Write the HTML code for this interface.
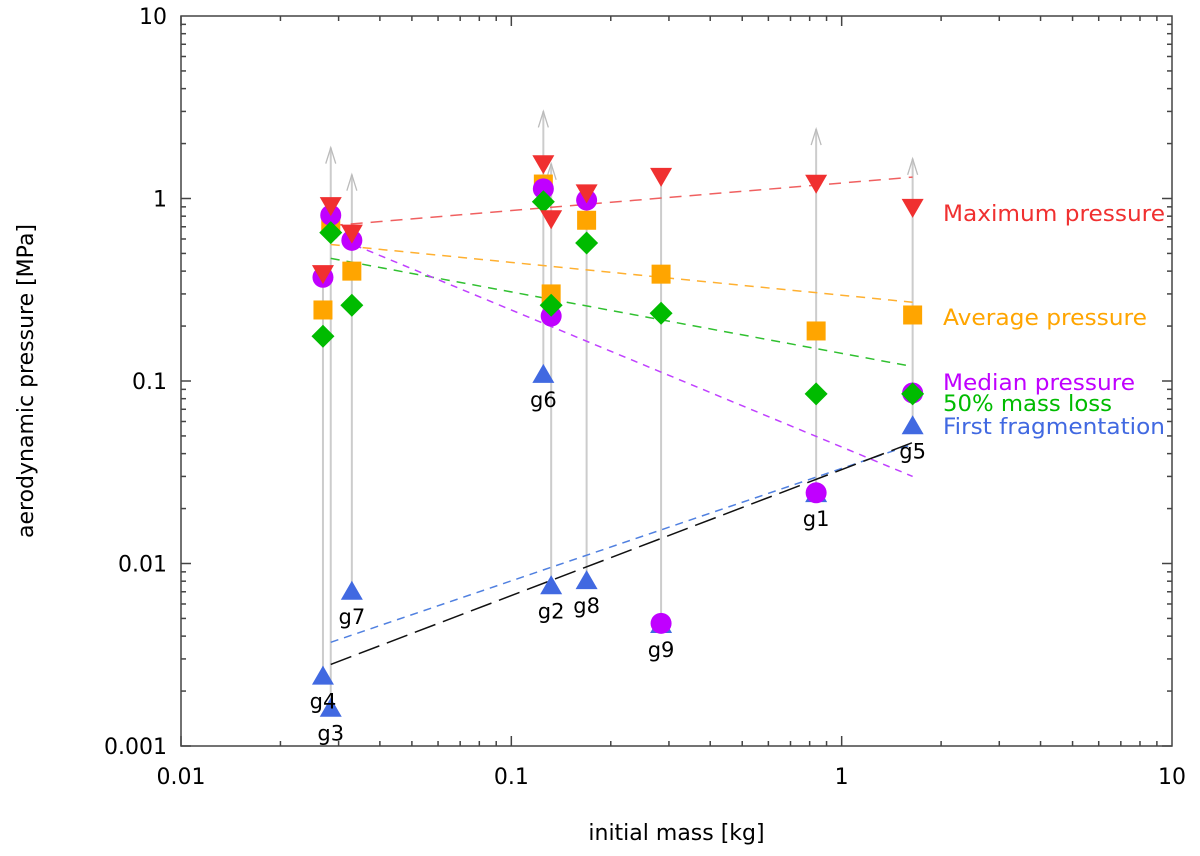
<!DOCTYPE html>
<html><head><meta charset="utf-8"><style>
body{margin:0;background:#fff}
svg{display:block;font-family:"DejaVu Sans","Liberation Sans",sans-serif}
</style></head><body>
<svg id="c" width="1200" height="856"></svg>
<script>
const names=["g4","g3","g7","g6","g2","g8","g9","g1","g5"];
const mass=[0.0269,0.0284,0.0329,0.125,0.132,0.169,0.284,0.837,1.64];
const maxP=[0.39,0.92,0.65,1.56,0.78,1.08,1.33,1.22,0.90];
const avgP=[0.245,0.72,0.40,1.2,0.30,0.76,0.385,0.188,0.23];
const medP=[0.37,0.81,0.59,1.13,0.227,0.98,0.0047,0.0244,0.086];
const halfP=[0.176,0.65,0.26,0.96,0.26,0.57,0.235,0.085,0.085];
const firstP=[0.0024,0.0016,0.0070,0.108,0.0075,0.008,0.0046,0.024,0.0565];
const arrowTop=[null,1.9,1.35,3.0,1.55,null,null,2.4,1.65];
const fitMass=[0.0284,1.64];
const fitMax=[0.71,1.31];const fitAvg=[0.56,0.27];const fitHalf=[0.47,0.12];
const fitMed=[0.63,0.030];const fitFirst=[0.0037,0.045];const fitAll=[0.0028,0.046];
const xTicks=[0.01,0.1,1,10],xLab=["0.01","0.1","1","10"];
const yTicks=[0.001,0.01,0.1,1,10],yLab=["0.001","0.01","0.1","1","10"];
const L=181,R=1172,T=16,B=746;
const X=v=>L+(Math.log10(v)+2)/3*(R-L);
const Y=v=>B-(Math.log10(v)+3)/4*(B-T);
const S=document.getElementById('c');const ns="http://www.w3.org/2000/svg";
function mk(t,a,p){const e=document.createElementNS(ns,t);for(const k in a)e.setAttribute(k,a[k]);(p||S).appendChild(e);return e;}
let f=mk('rect',{x:L,y:T,width:R-L,height:B-T,fill:'none',stroke:'#444','stroke-width':1.5});


for(let d=-2;d<1;d++)for(let m=1;m<10;m++){const x=X(m*Math.pow(10,d));const len=m==1?10:5;
 mk('line',{x1:x,x2:x,y1:B,y2:B-len,stroke:'#444','stroke-width':1.5});mk('line',{x1:x,x2:x,y1:T,y2:T+len,stroke:'#444','stroke-width':1.5});}
for(let d=-3;d<1;d++)for(let m=1;m<10;m++){const y=Y(m*Math.pow(10,d));const len=m==1?10:5;
 mk('line',{x1:L,x2:L+len,y1:y,y2:y,stroke:'#444','stroke-width':1.5});mk('line',{x1:R,x2:R-len,y1:y,y2:y,stroke:'#444','stroke-width':1.5});}
xTicks.forEach((v,i)=>{const t=mk('text',{x:X(v),y:B+38,'text-anchor':'middle','font-size':22});t.textContent=xLab[i];
 
 });
yTicks.forEach((v,i)=>{const t=mk('text',{x:L-14,y:Y(v)+8,'text-anchor':'end','font-size':22});t.textContent=yLab[i];
 
 });
let xt=mk('text',{x:(L+R)/2,y:840,'text-anchor':'middle','font-size':22});xt.textContent="initial mass [kg]";


let yt=mk('text',{x:0,y:0,'text-anchor':'middle','font-size':22,transform:`translate(33,${(T+B)/2}) rotate(-90)`});yt.textContent="aerodynamic pressure [MPa]";


mass.forEach((m,i)=>{const x=X(m);const all=[maxP[i],avgP[i],medP[i],halfP[i],firstP[i]];
 const lo=Math.min(...all);const hi=arrowTop[i]||Math.max(...all);
 const l=mk('line',{x1:x,x2:x,y1:Y(lo),y2:Y(hi),stroke:'#ccc','stroke-width':2});
 
 
 if(arrowTop[i]){const y=Y(arrowTop[i]);mk('polyline',{points:`${x-5},${y+16} ${x},${y} ${x+5},${y+16}`,fill:'none',stroke:'#bbb','stroke-width':1.3});}});
function fit(vals,col,dash,name){const l=mk('line',{x1:X(fitMass[0]),y1:Y(vals[0]),x2:X(fitMass[1]),y2:Y(vals[1]),stroke:col,'stroke-width':1.5,'stroke-dasharray':dash});
 
 }
fit(fitMax,'#f06060','12 8','fit-max');fit(fitAvg,'#ffb030','9 7','fit-average');fit(fitHalf,'#30c030','9 7','fit-50pct');
fit(fitMed,'#c040ff','7 6','fit-median');fit(fitFirst,'#5080e0','8 6','fit-first');fit(fitAll,'#111','22 8','fit-overall');
const s=10;
function tri(x,y,c,down){const p=down?`${x-s*1.1},${y-s*0.8} ${x+s*1.1},${y-s*0.8} ${x},${y+s*1.1}`:`${x-s*1.1},${y+s*0.8} ${x+s*1.1},${y+s*0.8} ${x},${y-s*1.1}`;return mk('polygon',{points:p,fill:c});}
function draw(arr,kind,col,name){arr.forEach((v,i)=>{const x=X(mass[i]),y=Y(v);let e;
 if(kind=='sq')e=mk('rect',{x:x-9.5,y:y-9.5,width:19,height:19,fill:col});
 else if(kind=='ci')e=mk('circle',{cx:x,cy:y,r:10.5,fill:col});
 else if(kind=='di')e=mk('polygon',{points:`${x},${y-11.5} ${x+11.5},${y} ${x},${y+11.5} ${x-11.5},${y}`,fill:col});
 else e=tri(x,y,col,kind=='dn');
 
 });}
draw(firstP,'up','#4169e1','first-frag-point');
draw(avgP,'sq','#ffa500','avg-point');
draw(medP,'ci','#c000ff','median-point');
draw(halfP,'di','#00bb00','half-mass-point');
draw(maxP,'dn','#f03030','max-point');
names.forEach((n,i)=>{const t=mk('text',{x:X(mass[i]),y:Y(firstP[i])+32,'text-anchor':'middle','font-size':21});t.textContent=n;
 
 });
const leg=[["Maximum pressure","#f03030",221,222],["Average pressure","#ffa500",325,204],["Median pressure","#c000ff",390,192],["50% mass loss","#00bb00",411,169],["First fragmentation","#4169e1",434,222]];
leg.forEach(l=>{const t=mk('text',{x:943,y:l[2],'font-size':22,fill:l[1],textLength:l[3],lengthAdjust:'spacingAndGlyphs'});t.textContent=l[0];
 
 });
</script></body></html>
